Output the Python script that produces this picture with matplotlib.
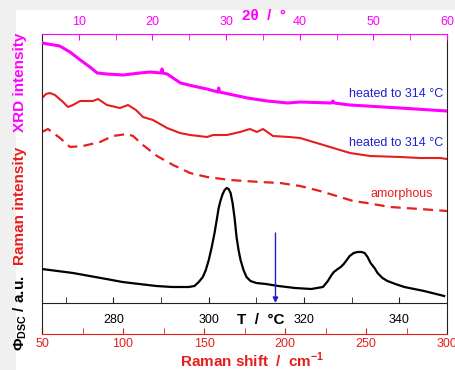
import matplotlib
matplotlib.use('Agg')
import matplotlib.pyplot as plt
import matplotlib.patches as patches

plt.rcParams['font.family'] = ['Liberation Sans', 'DejaVu Sans']
plt.rcParams['mathtext.fontset'] = 'custom'
plt.rcParams['mathtext.rm'] = 'Liberation Sans'
plt.rcParams['mathtext.bf'] = 'Liberation Sans:bold'

# Data (intensities in arbitrary units)
xrd_2theta = [5.0, 7.4, 8.8, 10.2, 11.5, 12.5, 13.8, 16.0, 18.3, 19.7, 21.2, 21.3, 21.4, 22.0, 22.8,
              23.8, 25.5, 27.4, 28.9, 29.0, 29.1, 31.0, 32.9, 35.6, 38.4, 40.0, 44.3, 44.5, 44.7,
              46.8, 53.6, 60.0]
xrd_int = [291, 288, 282, 274, 267, 261, 260, 259, 261, 262, 261, 265, 261, 260, 256,
           251, 248, 245, 242, 246, 242, 239, 236, 233, 231, 232, 231, 233, 231,
           229, 226, 223]

raman_shift = [50.0, 52.5, 54.9, 58.0, 63.0, 66.0, 69.1, 73.5, 81.5, 84.6, 90.1, 98.1, 103.1,
               108.0, 112.3, 118.5, 127.2, 135.2, 141.4, 151.9, 155.6, 164.2, 172.2, 178.4,
               182.7, 186.4, 192.6, 202.5, 209.3, 227.8, 240.1, 252.5, 271.0, 283.3, 295.7, 300.0]
raman_heated = [236, 240, 241, 239, 232, 227, 229, 233, 233, 235, 229, 226, 229,
                224, 217, 214, 206, 201, 199, 197, 199, 199, 202, 205,
                202, 205, 198, 197, 196, 187, 181, 178, 177, 176, 176, 175]

amorph_shift = [50.0, 53.7, 61.1, 67.3, 75.3, 85.8, 93.8, 102.5, 106.2, 112.3, 121.0, 130.9,
                141.4, 151.9, 166.0, 184.6, 196.9, 209.3, 221.6, 234.0, 242.0, 250.6, 264.8,
                283.3, 300.0]
raman_amorph = [202, 205, 196, 187, 188, 192, 198, 200, 198, 189, 178, 169,
                161, 157, 154, 152, 151, 148, 143, 137, 133, 131, 127,
                125, 123]

dsc_T = [265.0, 271.5, 275.0, 278.5, 281.9, 285.4, 289.0, 292.3, 295.8, 297.0, 297.9, 298.75,
         299.38, 300.0, 300.63, 301.25, 301.67, 302.08, 302.5, 302.92, 303.33, 303.75, 304.17,
         304.58, 305.0, 305.42, 305.83, 306.25, 306.67, 307.29, 307.92, 308.75, 310.0, 312.0,
         314.6, 318.1, 321.5, 323.96, 325.0, 325.63, 326.25, 327.08, 327.71, 328.33, 328.96,
         329.58, 330.42, 331.25, 332.08, 332.71, 333.33, 333.96, 334.79, 335.42, 336.46,
         337.5, 339.17, 341.04, 345.2, 349.4]
dsc_phi = [65, 61, 58, 55, 52, 50, 48, 47, 47, 48, 52, 57,
           64, 74, 87, 102, 114, 126, 134, 140, 144, 146, 145,
           141, 131, 116, 97, 84, 74, 64, 57, 53, 51, 50,
           48, 46, 45, 47, 53, 58, 62, 65, 67, 70, 74,
           78, 81, 82, 82, 81, 77, 71, 66, 61, 56,
           53, 50, 47, 43, 38]

dsc_baseline = 31      # position of the temperature axis
heat_T = 314           # arrow: heated to 314 C

raman_ticks = [50, 100, 150, 200, 250, 300]
xrd_ticks = [10, 20, 30, 40, 50, 60]
dsc_ticks = [280, 300, 320, 340]

# Colours
magenta = '#ff00ff'
red = '#e61e1e'
blue = '#2020cc'

W, H = 455, 370
fig = plt.figure(figsize=(W / 100, H / 100), dpi=100, facecolor='#f0f0f0')
# white panel, behind the axes
fig.patches.append(patches.Rectangle((16 / W, 0), 1, 1 - 10 / H, transform=fig.transFigure,
                                     facecolor='white', edgecolor='none', zorder=-10))

ax = fig.add_axes([42 / W, 36 / H, 405 / W, 300 / H])
ax.set_facecolor('white')
ax.set_xlim(50, 300)
ax.set_ylim(0, 300)
ax.set_yticks([])

# Raman
ax.plot(raman_shift, raman_heated, color=red, lw=1.5, solid_joinstyle='round')
ax.plot(amorph_shift, raman_amorph, color=red, lw=1.6, dashes=[4.5, 2.8])
ax.set_xticks(raman_ticks)
ax.set_xticks([75, 125, 175, 225, 275], minor=True)
ax.tick_params(axis='x', which='both', direction='in', length=4, color=red,
               labelcolor=red, labelsize=9, pad=3)
ax.spines['bottom'].set_color(red)
ax.spines['top'].set_visible(False)
for s in ['left', 'right']:
    ax.spines[s].set_color('#222222')

# XRD on top axis
ax_x = ax.twiny()
ax_x.set_xlim(5, 60)
ax_x.plot(xrd_2theta, xrd_int, color=magenta, lw=2.2, solid_joinstyle='round')
ax_x.set_xticks(xrd_ticks)
ax_x.set_xticks([15, 25, 35, 45, 55], minor=True)
ax_x.tick_params(axis='x', which='both', direction='in', length=4, color=magenta,
                 labelcolor=magenta, labelsize=9, pad=4)
ax_x.spines['top'].set_color(magenta)
for s in ['bottom', 'left', 'right']:
    ax_x.spines[s].set_visible(False)

# DSC on an inner axis
ax_t = ax.twiny()
ax_t.set_xlim(265, 350)
ax_t.plot(dsc_T, dsc_phi, color='black', lw=1.6, solid_joinstyle='round')
ax_t.xaxis.set_ticks_position('bottom')
ax_t.spines['bottom'].set_position(('data', dsc_baseline))
ax_t.spines['bottom'].set_color('#222222')
for s in ['top', 'left', 'right']:
    ax_t.spines[s].set_visible(False)
ax_t.set_xticks(dsc_ticks)
ax_t.set_xticks([270, 290, 310, 330, 350], minor=True)
ax_t.tick_params(axis='x', which='both', direction='in', length=4, color='#222222',
                 labelsize=9, pad=8)
ax_t.annotate('', xy=(heat_T, dsc_baseline), xytext=(heat_T, 101),
              arrowprops=dict(arrowstyle='-|>', color=blue, lw=1, mutation_scale=8,
                              shrinkA=0, shrinkB=0))

# Texts
def ftext(x, y, s, **kw):
    fig.text(x / W, 1 - y / H, s, **kw)

ftext(443, 94, 'heated to 314 °C', color=blue, fontsize=9, ha='right', va='center')
ftext(443, 143, 'heated to 314 °C', color=blue, fontsize=9, ha='right', va='center')
ftext(433, 194, 'amorphous', color=red, fontsize=9, ha='right', va='center')

ftext(264, 16, '2θ  /  °', color=magenta, fontsize=11, fontweight='bold', ha='center', va='center')
ftext(261, 320, 'T  /  °C', color='black', fontsize=11, fontweight='bold', ha='center', va='center')
ftext(252, 360, r'Raman shift  /  cm$^{\mathbf{-1}}$', color=red, fontsize=11,
      fontweight='bold', ha='center', va='center')

ftext(20, 82, 'XRD intensity', color=magenta, fontsize=11, fontweight='bold',
      rotation=90, ha='center', va='center')
ftext(20, 206, 'Raman intensity', color=red, fontsize=11, fontweight='bold',
      rotation=90, ha='center', va='center')
ftext(20, 313, r'Φ$_{\mathbf{DSC}}$ / a.u.', color='black', fontsize=11, fontweight='bold',
      rotation=90, ha='center', va='center')

fig.savefig('out.png', dpi=100, facecolor=fig.get_facecolor())
